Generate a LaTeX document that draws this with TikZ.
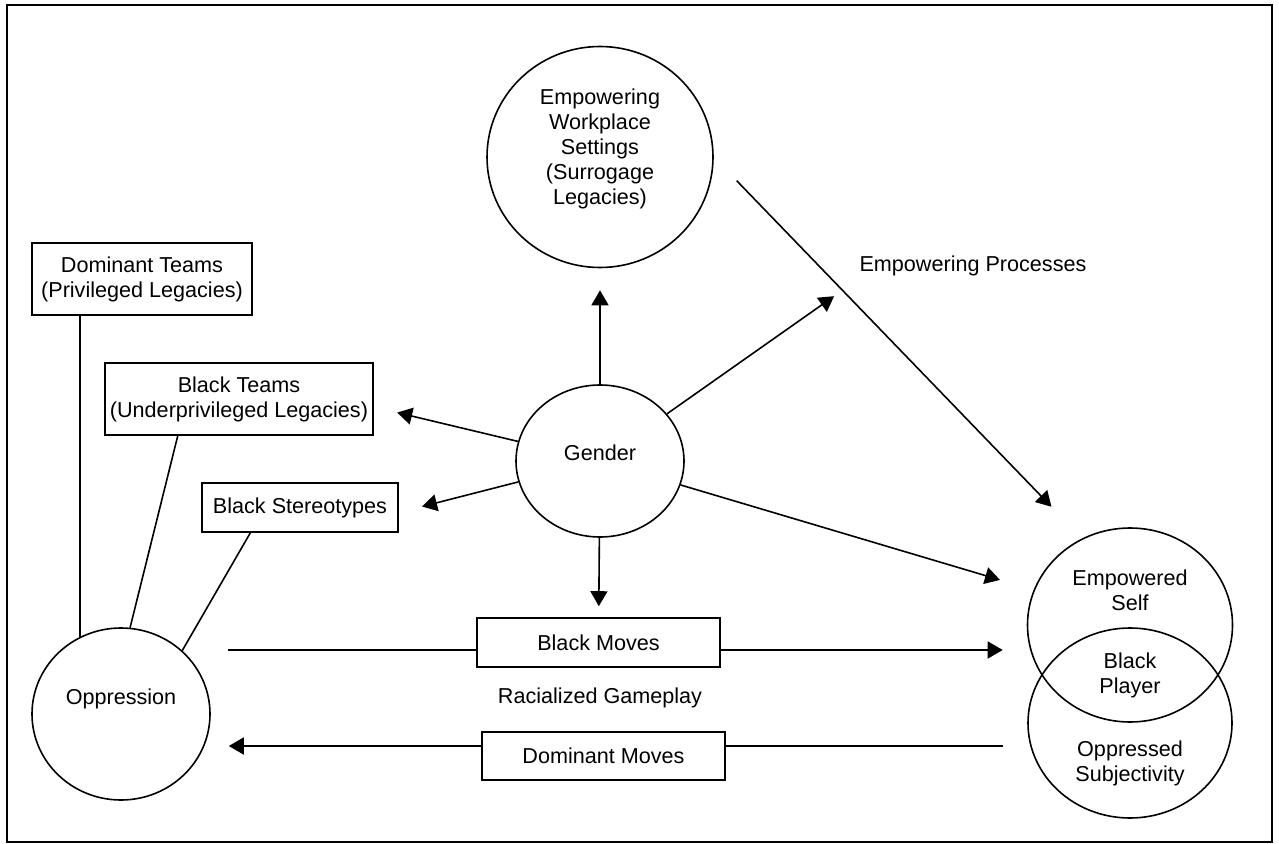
\documentclass[tikz,border=0pt]{standalone}
\usepackage{fontspec}
\setmainfont{Liberation Sans}
\usetikzlibrary{arrows.meta, shapes.geometric}

\begin{document}
\begin{tikzpicture}[x=0.5pt, y=-0.5pt, line width=0.8pt,
        >={Triangle[length=7.5pt,width=8.5pt]},
        every node/.style={font=\fontsize{10.8}{12.5}\selectfont, align=center},
        bubble/.style={draw, ellipse, inner sep=0pt},
        box/.style={draw, rectangle, inner sep=0pt}]
        \useasboundingbox (0,0) rectangle (1279,844);
        \draw (7,5) rectangle (1272,842);

        \node[bubble, minimum width=113pt, minimum height=110.5pt,
              label={[yshift=4pt]center:Empowering\\Workplace\\Settings\\(Surrogage\\Legacies)}]
                                    (settings)  at (600,157)  {};
        \node[bubble, minimum width=84pt, minimum height=76pt,
              label={[yshift=4pt]center:Gender}]
                                    (gender)    at (600,461)  {};
        \node[bubble, minimum width=89pt, minimum height=86pt,
              label={[yshift=7.5pt]center:Oppression}]
                                    (oppr)      at (121,714)  {};
        \node[bubble, minimum width=102.5pt, minimum height=97pt,
              label={[yshift=17.5pt]center:Empowered\\Self}]
                                    (eself)     at (1130,625) {};
        \node[bubble, minimum width=102pt, minimum height=95pt,
              label={[yshift=-20pt]center:Oppressed\\Subjectivity}]
                                    (osubj)     at (1130,723) {};
        \node                       (player)    at (1130,675) {Black\\Player};

        \node[box, minimum width=110pt, minimum height=36pt]     (dteams) at (142,279)   {Dominant Teams\\(Privileged Legacies)};
        \node[box, minimum width=134pt, minimum height=36pt]     (bteams) at (239,399)   {Black Teams\\(Underprivileged Legacies)};
        \node[box, minimum width=98pt, minimum height=24.5pt]    (stereo) at (300,507.5) {Black Stereotypes};
        \node[box, minimum width=121.5pt, minimum height=24.5pt] (bmoves) at (598.5,642.5) {Black Moves};
        \node[box, minimum width=121.5pt, minimum height=24pt]   (dmoves) at (603.5,756) {Dominant Moves};

        \node                       (procs)     at (973,266)  {Empowering Processes};
        \node                       (racial)    at (600,698)  {Racialized Gameplay};

        % gender spokes
        \path[->]   (gender) edge [shorten >=11pt] (settings)
        edge [shorten >=5.5pt] (bmoves)
        edge [shorten >=12pt] ([yshift=-4pt]bteams.east)
        edge [shorten >=12pt] ([yshift=-2.5pt]stereo.east)
        edge [shorten >=11pt] (procs.south west)
        edge [shorten >=17.5pt] (eself.160)
        (settings.east) edge [shorten <=16.5pt, shorten >=22pt] (eself.119)
        ;

        % oppression ties
        \draw (oppr.118) -- (oppr.118 |- dteams.south);
        \draw (oppr.84) -- (bteams.211);
        \draw (oppr.46) -- (stereo.207);

        % moves
        \coordinate (bmin)  at ([yshift=-3.75pt]bmoves.west);
        \coordinate (bmout) at ([yshift=-3.75pt]bmoves.east);
        \coordinate (dmin)  at ([yshift=5pt]dmoves.east);
        \coordinate (dmout) at ([yshift=5pt]dmoves.west);
        \draw[shorten <=8.5pt] (oppr.east |- bmin) -- (bmin);
        \draw[->, shorten >=12pt] (bmout) -- (eself.west |- bmout);
        \draw[shorten <=12pt] (osubj.west |- dmin) -- (dmin);
        \draw[->, shorten >=9pt] (dmout) -- (oppr.east |- dmout);
    \end{tikzpicture}
\end{document}
